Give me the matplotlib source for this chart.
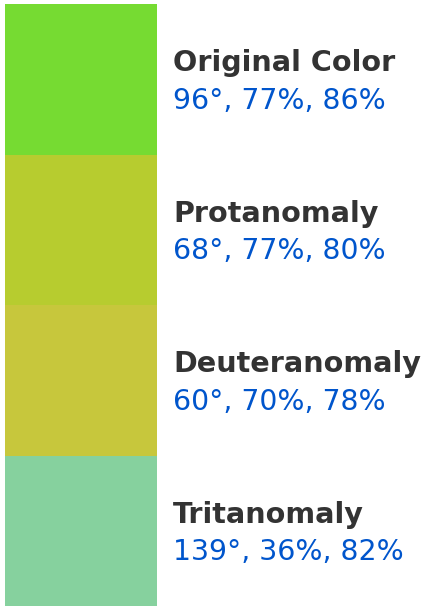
import matplotlib
matplotlib.use("Agg")
import matplotlib.pyplot as plt
from matplotlib.colors import hsv_to_rgb

labels = ["Original Color", "Protanomaly", "Deuteranomaly", "Tritanomaly"]
hues = [96, 68, 60, 139]
sats = [77, 77, 70, 36]
vals = [86, 80, 78, 82]

colors = [hsv_to_rgb((h / 360, s / 100, v / 100)) for h, s, v in zip(hues, sats, vals)]

W, H = 425, 606
fig = plt.figure(figsize=(W / 100, H / 100), dpi=100)
fig.patch.set_facecolor("white")
ax = fig.add_axes([5 / W, 0 / H, 152 / W, 602 / H])
ax.barh(range(len(labels)), [1] * len(labels), height=1.0, color=colors, left=0, linewidth=0)
ax.set_xlim(0, 1)
ax.set_ylim(len(labels) - 0.5, -0.5)
ax.axis("off")

row_px = 602 / len(labels)
xt = (173 - 5) / 152
for i, (lab, h, s, v) in enumerate(zip(labels, hues, sats, vals)):
    ax.text(xt, i - 8 / row_px, lab, fontsize=20.6, fontweight="bold", color="#333333",
            va="baseline", ha="left", family="DejaVu Sans", clip_on=False)
    ax.text(xt, i + 29.5 / row_px, f"{h}°, {s}%, {v}%", fontsize=20.4, color="#0055cc",
            va="baseline", ha="left", family="DejaVu Sans", clip_on=False)

fig.savefig("out.png", dpi=100, facecolor="white")
